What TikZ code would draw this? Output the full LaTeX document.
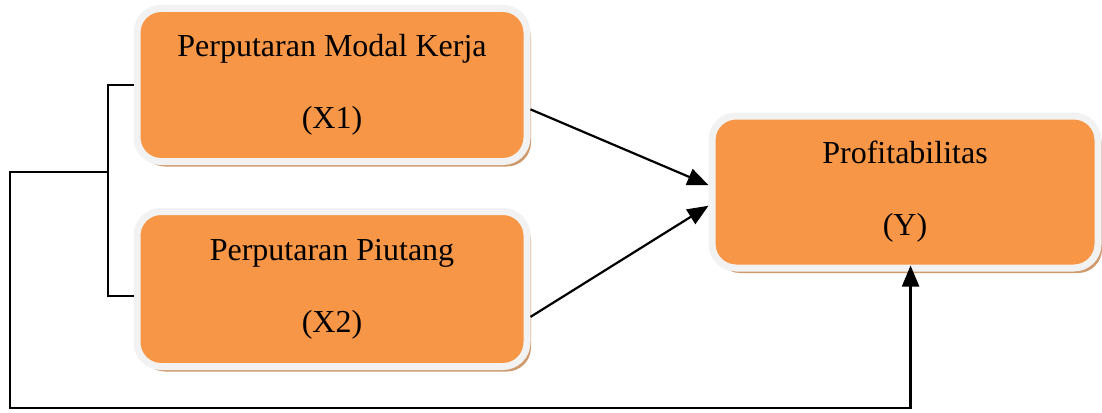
\documentclass[tikz,border=0pt]{standalone}
\usepackage{fontspec}
\setmainfont{Liberation Serif}
\usetikzlibrary{arrows.meta,shadows}
\definecolor{boxorange}{HTML}{F79646}
\definecolor{boxrim}{HTML}{F2F2F2}
\definecolor{boxshade}{HTML}{CF9A6E}
\tikzset{
  var/.style={draw=boxrim, line width=7pt, fill=boxorange, rounded corners=24pt, align=center, inner sep=0pt, font=\fontsize{32}{72}\selectfont, drop shadow={shadow xshift=4pt, shadow yshift=-5pt, fill=boxshade, opacity=1}},
  arr/.style={-{Triangle[length=21pt,width=17pt]}, line width=2.2pt},
  link/.style={line width=2.2pt},
}

\begin{document}
\begin{tikzpicture}[x=1pt, y=-1pt]
\useasboundingbox (0,0) rectangle (1102,412);
\node[var, minimum width=390pt, minimum height=153pt] (x1) at (332,85) {Perputaran Modal Kerja\\(X1)};
\node[var, minimum width=390pt, minimum height=155pt] (x2) at (332,289) {Perputaran Piutang\\(X2)};
\node[var, minimum width=386pt, minimum height=152pt] (y) at (905,192) {Profitabilitas\\(Y)};
\coordinate (kj) at (108,172);
\coordinate (ll) at (10,408);
% arrows into Y
\draw[arr] (x1.-7.5) -- (y.178.4);
\draw[arr] (x2.-8.3) -- (y.-176.9);
% bracket and return line
\draw[link] (x1.west) -- (x1.west -| kj) -- (x2.182 -| kj) -- (x2.182);
\draw[arr, shorten >=-6pt] (kj) -| (ll) -| (y.-86);
\end{tikzpicture}
\end{document}
